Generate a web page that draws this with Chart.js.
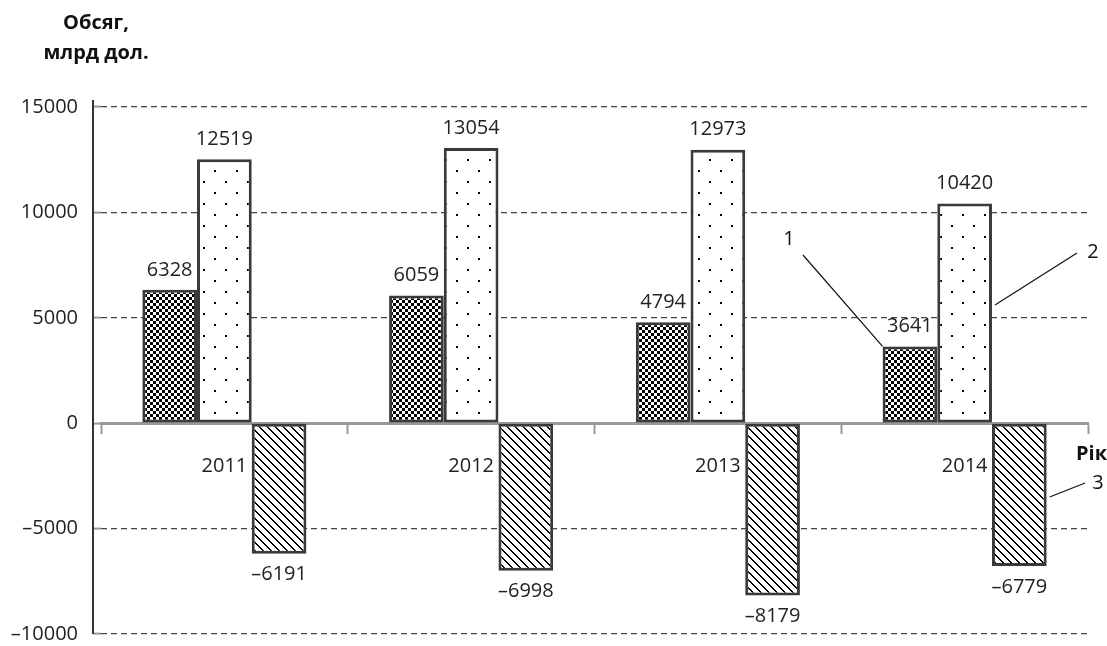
<!DOCTYPE html>
<html><head><meta charset="utf-8">
<script src="https://cdn.jsdelivr.net/npm/chart.js@4.4.1/dist/chart.umd.min.js"></script>
<style>html,body{margin:0;padding:0;background:#fff}#wrap{width:1107px;height:646px;position:relative}</style>
</head><body><div id="wrap"><canvas id="c" width="1107" height="646"></canvas></div>
<script>
const years = ['2011', '2012', '2013', '2014'];
const series1 = [6328, 6059, 4794, 3641];
const series2 = [12519, 13054, 12973, 10420];
const series3 = [-6191, -6998, -8179, -6779];
const yTicks = [-10000, -5000, 0, 5000, 10000, 15000];
const titleLines = ['Обсяг,', 'млрд дол.'];
const xTitle = 'Рік';
const markers = ['1', '2', '3'];

const FONT = '"Open Sans", "Noto Sans", sans-serif';
function fmt(v){ return v < 0 ? '\u2013' + Math.abs(v) : String(v); }

function makePattern(size, draw){
  const c = document.createElement('canvas'); c.width = size; c.height = size;
  const g = c.getContext('2d'); g.fillStyle = '#fff'; g.fillRect(0,0,size,size);
  g.fillStyle = '#000'; draw(g, size);
  return document.getElementById('c').getContext('2d').createPattern(c, 'repeat');
}
const checker = makePattern(6, g => { g.fillRect(0,0,3,3); g.fillRect(3,3,3,3); });
const dots = makePattern(22, g => { g.fillRect(5,5,2,2); g.fillRect(16,16,2,2); });
const diag = makePattern(8, (g, s) => { for (let i = 0; i < s; i++){ g.fillRect(i, i, 2, 1); if (i === s-1) g.fillRect(0, i, 1, 1); } });

const decor = {
  id: 'decor',
  afterDatasetsDraw(chart){
    const ctx = chart.ctx, ca = chart.chartArea;
    ctx.save();
    // y axis line
    ctx.strokeStyle = '#333'; ctx.lineWidth = 2;
    ctx.beginPath(); ctx.moveTo(ca.left - 8, ca.top - 7); ctx.lineTo(ca.left - 8, ca.bottom); ctx.stroke();
    // value labels
    ctx.font = '20px ' + FONT; ctx.fillStyle = '#222'; ctx.textAlign = 'center';
    chart.data.datasets.forEach((ds, di) => {
      chart.getDatasetMeta(di).data.forEach((bar, i) => {
        const v = ds.data[i];
        if (v >= 0) { ctx.textBaseline = 'bottom'; ctx.fillText(fmt(v), bar.x, bar.y - 10); }
        else { ctx.textBaseline = 'top'; ctx.fillText(fmt(v), bar.x, bar.y + 11); }
      });
    });
    // title
    ctx.font = 'bold 20px ' + FONT; ctx.fillStyle = '#111'; ctx.textBaseline = 'middle'; ctx.textAlign = 'center';
    ctx.fillText(titleLines[0], 96, 23);
    ctx.fillText(titleLines[1], 96, 53);
    // x title
    ctx.textAlign = 'left';
    ctx.fillText(xTitle, 1076, 454);
    // markers with leader lines, attached to 2014 bars
    const b1 = chart.getDatasetMeta(0).data[3], b2 = chart.getDatasetMeta(1).data[3], b3 = chart.getDatasetMeta(2).data[3];
    ctx.strokeStyle = '#111'; ctx.lineWidth = 1.2;
    ctx.beginPath();
    ctx.moveTo(b1.x - b1.width/2, b1.y); ctx.lineTo(803, 255);
    ctx.moveTo(b2.x + b2.width/2 + 3, 305); ctx.lineTo(1077, 253);
    ctx.moveTo(b3.x + b3.width/2 + 3, 497); ctx.lineTo(1085, 483);
    ctx.stroke();
    ctx.font = '20px ' + FONT; ctx.fillStyle = '#111'; ctx.textAlign = 'center';
    ctx.fillText(markers[0], 789, 239);
    ctx.fillText(markers[1], 1093, 252);
    ctx.fillText(markers[2], 1098, 483);
    ctx.restore();
  }
};

new Chart(document.getElementById('c'), {
  type: 'bar',
  data: {
    labels: years,
    datasets: [
      { data: series1, backgroundColor: checker, borderColor: '#3a3a3a', borderWidth: 3, borderSkipped: false },
      { data: series2, backgroundColor: dots, borderColor: '#3a3a3a', borderWidth: 3, borderSkipped: false },
      { data: series3, backgroundColor: diag, borderColor: '#3a3a3a', borderWidth: 3, borderSkipped: false }
    ]
  },
  options: {
    responsive: false, animation: false,
    layout: { padding: { top: 107, right: 19, bottom: 12, left: 0 } },
    datasets: { bar: { barPercentage: 1, categoryPercentage: 0.665 } },
    plugins: { legend: { display: false }, tooltip: { enabled: false } },
    scales: {
      y: {
        min: -10000, max: 15000,
        afterFit(s){ s.width = 101; s.paddingTop = 0; s.paddingBottom = 0; },
        afterBuildTicks(s){ s.ticks = yTicks.map(v => ({ value: v })); },
        border: { display: false, dash: [6, 4] },
        grid: {
          color: ctx => ctx.tick && ctx.tick.value === 0 ? 'rgba(0,0,0,0)' : '#444',
          lineWidth: 1.2, tickLength: 8, tickColor: '#999', tickWidth: 2,
          tickBorderDash: [0, 0]
        },
        ticks: { padding: 15, color: '#222', font: { family: FONT, size: 20 }, callback: v => fmt(v) }
      },
      x: {
        position: { y: 0 },
        afterFit(s){ s.height = 0; },
        border: { display: true, color: '#999', width: 3 },
        grid: { display: true, drawOnChartArea: false, offset: true, tickLength: 9, tickColor: '#999', tickWidth: 2 },
        ticks: { padding: 22, color: '#222', font: { family: FONT, size: 20 } }
      }
    }
  },
  plugins: [decor]
});
</script>
</body></html>
